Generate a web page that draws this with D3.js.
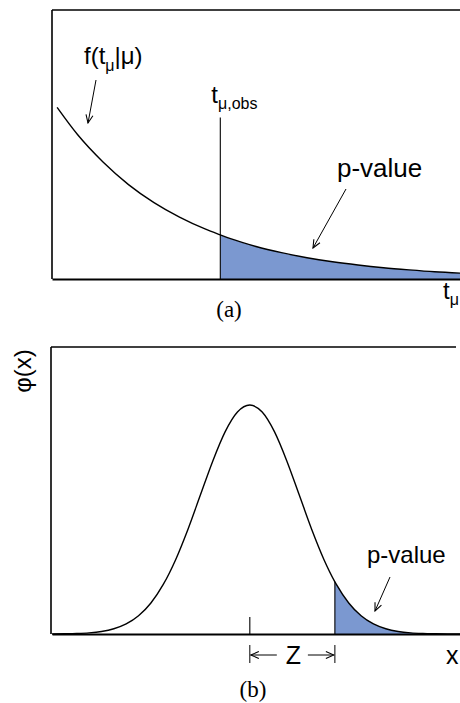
<!DOCTYPE html>
<html>
<head>
<meta charset="utf-8">
<script src="https://cdn.jsdelivr.net/npm/d3@7/dist/d3.min.js"></script>
<style>
  html, body { margin: 0; padding: 0; background: #fff; }
  svg { display: block; }
  .sans { font-family: "Liberation Sans", Arial, sans-serif; fill: #000; }
  .serif { font-family: "Liberation Serif", "Times New Roman", serif; fill: #000; }
</style>
</head>
<body>
<svg id="chart" width="460" height="703"></svg>
<script>
// ---------- data ----------
// (a) test-statistic density f(t_mu | mu)
const tValues = [0.1, 0.5, 1, 1.5, 2, 2.5, 3, 3.3, 3.5, 4, 4.5, 5, 5.5, 6, 6.5, 7, 7.5, 8];
const fValues = [0.638, 0.537, 0.435, 0.351, 0.284, 0.230, 0.186, 0.164, 0.150, 0.121, 0.098, 0.079, 0.064, 0.052, 0.042, 0.034, 0.027, 0.022];
const tObs = 3.3;
const tObsLineTop = 0.6;

// (b) standard normal density phi(x)
const xValues = [-4, -3.75, -3.5, -3.25, -3, -2.75, -2.5, -2.25, -2, -1.75, -1.5, -1.25, -1, -0.75, -0.5, -0.25,
  0, 0.25, 0.5, 0.75, 1, 1.25, 1.5, 1.72, 1.75, 2, 2.25, 2.5, 2.75, 3, 3.25, 3.5, 3.75, 4, 4.25];
const phiValues = [0.0001, 0.0004, 0.0009, 0.0020, 0.0044, 0.0091, 0.0175, 0.0317, 0.0540, 0.0863, 0.1295, 0.1826, 0.2420, 0.3011, 0.3521, 0.3867,
  0.3989, 0.3867, 0.3521, 0.3011, 0.2420, 0.1826, 0.1295, 0.0909, 0.0863, 0.0540, 0.0317, 0.0175, 0.0091, 0.0044, 0.0020, 0.0009, 0.0004, 0.0001, 0.00005];
const zValue = 1.72;

const fillColor = "#7b98d0";

// ---------- setup ----------
const svg = d3.select("#chart");
svg.append("defs").append("marker")
  .attr("id", "arr")
  .attr("viewBox", "-9 -5 10 10")
  .attr("refX", 0).attr("refY", 0)
  .attr("markerUnits", "userSpaceOnUse")
  .attr("markerWidth", 10).attr("markerHeight", 10)
  .attr("orient", "auto")
  .append("path")
  .attr("d", "M-8,-3.5 L0,0 L-8,3.5")
  .attr("fill", "none").attr("stroke", "#000").attr("stroke-width", 1.1);

// ================= panel (a) =================
const xa = d3.scaleLinear().domain([0, 8]).range([52, 460]);
const ya = d3.scaleLinear().domain([0, 1]).range([279, 10]);
const ptsA = tValues.map((t, i) => ({ t, f: fValues[i] }));

const gA = svg.append("g");
gA.append("path")
  .datum(ptsA.filter(d => d.t >= tObs))
  .attr("fill", fillColor)
  .attr("d", d3.area().x(d => xa(d.t)).y0(ya(0)).y1(d => ya(d.f)).curve(d3.curveMonotoneX));
gA.append("path")
  .datum(ptsA)
  .attr("fill", "none").attr("stroke", "#000").attr("stroke-width", 1.4)
  .attr("d", d3.line().x(d => xa(d.t)).y(d => ya(d.f)).curve(d3.curveMonotoneX));

// frame: left, top, bottom
gA.append("line").attr("x1", xa(0)).attr("x2", xa(0)).attr("y1", ya(1)).attr("y2", ya(0))
  .attr("stroke", "#000").attr("stroke-width", 1.6);
gA.append("line").attr("x1", xa(0)).attr("x2", xa(8)).attr("y1", ya(1)).attr("y2", ya(1))
  .attr("stroke", "#000").attr("stroke-width", 1.6);
gA.append("g").attr("transform", `translate(0,${ya(0)})`)
  .call(d3.axisBottom(xa).tickValues([]).tickSizeOuter(0))
  .call(g => g.select(".domain").attr("stroke", "#000").attr("stroke-width", 1.8));

// t_obs line
gA.append("line").attr("x1", xa(tObs)).attr("x2", xa(tObs)).attr("y1", ya(tObsLineTop)).attr("y2", ya(0))
  .attr("stroke", "#000").attr("stroke-width", 1.1);

// labels (a)
const fLab = gA.append("text").attr("class", "sans").attr("x", 84).attr("y", 64).attr("font-size", 24);
fLab.append("tspan").text("f(t");
fLab.append("tspan").attr("font-size", 16).attr("dy", 7).text("μ");
fLab.append("tspan").attr("dy", -7).text("|μ)");
gA.append("line").attr("x1", 96).attr("y1", 80).attr("x2", 88).attr("y2", 123)
  .attr("stroke", "#000").attr("stroke-width", 1).attr("marker-end", "url(#arr)");

const oLab = gA.append("text").attr("class", "sans").attr("x", xa(tObs) - 9).attr("y", 103).attr("font-size", 24);
oLab.append("tspan").text("t");
oLab.append("tspan").attr("font-size", 16).attr("dy", 6).text("μ,obs");

gA.append("text").attr("class", "sans").attr("x", 337).attr("y", 177).attr("font-size", 26).text("p-value");
gA.append("line").attr("x1", 346).attr("y1", 189).attr("x2", 313).attr("y2", 248)
  .attr("stroke", "#000").attr("stroke-width", 1).attr("marker-end", "url(#arr)");

const tLab = gA.append("text").attr("class", "sans").attr("x", 443).attr("y", 299).attr("font-size", 24);
tLab.append("tspan").text("t");
tLab.append("tspan").attr("font-size", 16).attr("dy", 6).text("μ");

gA.append("text").attr("class", "serif").attr("x", 229).attr("y", 317).attr("font-size", 23)
  .attr("text-anchor", "middle").text("(a)");

// ================= panel (b) =================
const xb = d3.scaleLinear().domain([-4, 4.25]).range([52, 460]);
const yb = d3.scaleLinear().domain([0, 0.5]).range([634, 347]);
const ptsB = xValues.map((x, i) => ({ x, p: phiValues[i] }));

const gB = svg.append("g");
gB.append("path")
  .datum(ptsB.filter(d => d.x >= zValue))
  .attr("fill", fillColor)
  .attr("d", d3.area().x(d => xb(d.x)).y0(yb(0)).y1(d => yb(d.p)).curve(d3.curveMonotoneX));
gB.append("line").attr("x1", xb(zValue)).attr("x2", xb(zValue)).attr("y1", yb(phiValues[xValues.indexOf(zValue)])).attr("y2", yb(0))
  .attr("stroke", "#000").attr("stroke-width", 1.1);
gB.append("path")
  .datum(ptsB)
  .attr("fill", "none").attr("stroke", "#000").attr("stroke-width", 1.4)
  .attr("d", d3.line().x(d => xb(d.x)).y(d => yb(d.p)).curve(d3.curveMonotoneX));

// frame
gB.append("line").attr("x1", xb(-4) - 1).attr("x2", xb(-4) - 1).attr("y1", yb(0.5)).attr("y2", yb(0))
  .attr("stroke", "#000").attr("stroke-width", 1.6);
gB.append("line").attr("x1", xb(-4) - 1).attr("x2", 456).attr("y1", yb(0.5)).attr("y2", yb(0.5))
  .attr("stroke", "#000").attr("stroke-width", 1.6);
gB.append("g").attr("transform", `translate(0,${yb(0)})`)
  .call(d3.axisBottom(xb).tickValues([]).tickSizeOuter(0))
  .call(g => g.select(".domain").attr("stroke", "#000").attr("stroke-width", 1.8));

// mean tick
gB.append("line").attr("x1", xb(0)).attr("x2", xb(0)).attr("y1", yb(0) - 17).attr("y2", yb(0))
  .attr("stroke", "#000").attr("stroke-width", 1.1);

// Z dimension
const zy = 655;
[0, zValue].forEach(v => {
  gB.append("line").attr("x1", xb(v)).attr("x2", xb(v)).attr("y1", zy - 10).attr("y2", zy + 8)
    .attr("stroke", "#000").attr("stroke-width", 1);
});
gB.append("line").attr("x1", xb(0) + 27).attr("y1", zy).attr("x2", xb(0) + 1).attr("y2", zy)
  .attr("stroke", "#000").attr("stroke-width", 1).attr("marker-end", "url(#arr)");
gB.append("line").attr("x1", xb(zValue) - 27).attr("y1", zy).attr("x2", xb(zValue) - 1).attr("y2", zy)
  .attr("stroke", "#000").attr("stroke-width", 1).attr("marker-end", "url(#arr)");
gB.append("text").attr("class", "sans").attr("x", (xb(0) + xb(zValue)) / 2 + 1).attr("y", zy + 9)
  .attr("font-size", 25).attr("text-anchor", "middle").text("Z");

gB.append("text").attr("class", "sans").attr("x", 446).attr("y", 664).attr("font-size", 25).text("x");

gB.append("text").attr("class", "sans").attr("x", 367).attr("y", 563).attr("font-size", 24).text("p-value");
gB.append("line").attr("x1", 390).attr("y1", 577).attr("x2", 375).attr("y2", 611)
  .attr("stroke", "#000").attr("stroke-width", 1).attr("marker-end", "url(#arr)");

gB.append("text").attr("class", "sans").attr("transform", "translate(31,371) rotate(-90)")
  .attr("font-size", 24).attr("text-anchor", "middle").text("φ(x)");

gB.append("text").attr("class", "serif").attr("x", 253).attr("y", 697).attr("font-size", 23)
  .attr("text-anchor", "middle").text("(b)");
</script>
</body>
</html>
